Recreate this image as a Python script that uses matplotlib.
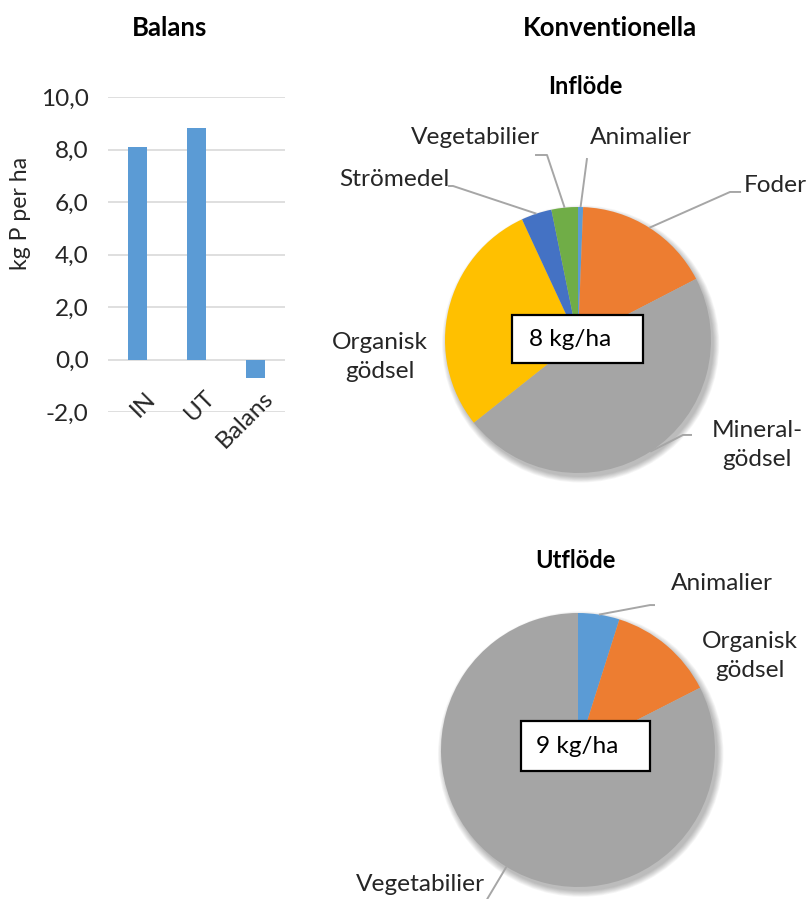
import matplotlib
matplotlib.use("Agg")
import matplotlib.pyplot as plt
from matplotlib.patches import Rectangle, Circle
from matplotlib.transforms import ScaledTranslation
import numpy as np

plt.rcParams['font.family'] = ['Lato', 'DejaVu Sans']

W, H = 806, 899
DPI = 100

# Phosphorus balance, kg P per ha
bar_labels = ["IN", "UT", "Balans"]
bar_values = [8.1, 8.8, -0.7]
y_ticks = [-2.0, 0.0, 2.0, 4.0, 6.0, 8.0, 10.0]

# Inflow by source, kg P per ha
in_labels = ["Animalier", "Foder", "Mineral-\ngödsel", "Organisk\ngödsel", "Strömedel", "Vegetabilier"]
in_values = [0.05, 1.36, 3.80, 2.33, 0.30, 0.26]
in_colors = ["#5B9BD5", "#ED7D31", "#A5A5A5", "#FFC000", "#4472C4", "#70AD47"]
in_total = "8 kg/ha"

# Outflow by product, kg P per ha
out_labels = ["Animalier", "Organisk\ngödsel", "Vegetabilier"]
out_values = [0.43, 1.11, 7.26]
out_colors = ["#5B9BD5", "#ED7D31", "#A5A5A5"]
out_total = "9 kg/ha"

TXT = "#262626"
FS = 17.6
FS_TITLE = 18.5

fig = plt.figure(figsize=(W / DPI, H / DPI), dpi=DPI)


def px_axes(x0, y0, x1, y1):
    return fig.add_axes([x0 / W, 1 - y1 / H, (x1 - x0) / W, (y1 - y0) / H])


def fig_text(x, y, s, **kw):
    return fig.text(x / W, 1 - y / H, s, **kw)


# ---- bar chart ----
ax = px_axes(108, 97, 285, 412)
x = np.arange(len(bar_values))
ax.bar(x, bar_values, width=0.32, color="#5B9BD5", zorder=3)
ax.set_xlim(-0.5, len(bar_values) - 0.5)
ax.set_ylim(min(y_ticks), max(y_ticks))
ax.set_yticks(y_ticks)
ax.set_yticklabels([f"{v:.1f}".replace(".", ",") for v in y_ticks],
                   fontsize=FS, color=TXT)
ax.set_xticks([])
ax.tick_params(axis="y", length=0, pad=14)
ax.yaxis.grid(True, color="#D9D9D9", linewidth=1.2, zorder=0)
for sp in ax.spines.values():
    sp.set_visible(False)
offset = ScaledTranslation(0.07, -0.28, fig.dpi_scale_trans)
for xi, lab in zip(x, bar_labels):
    ax.text(xi, 0, lab, rotation=45, rotation_mode="anchor", ha="right",
            va="top", fontsize=FS, color=TXT,
            transform=ax.transData + offset)
fig_text(21, 213, "kg P per ha", rotation=90, ha="center", va="center",
         fontsize=FS - 1, color=TXT)

fig_text(170, 28, "Balans", ha="center", va="center", fontsize=FS_TITLE,
         fontweight="bold", color="black")
fig_text(610, 28, "Konventionella", ha="center", va="center",
         fontsize=FS_TITLE, fontweight="bold", color="black")


# ---- pies ----
def draw_pie(cx, cy, r, values, colors, labels, label_pos, leaders, box,
             total, text_x, text_y):
    L = 1.75
    pax = px_axes(cx - L * r, cy - L * r, cx + L * r, cy + L * r)
    # soft drop shadow
    for k in range(8):
        pax.add_patch(Circle((0.02, -0.03), 1.0 + 0.006 * k, color="black",
                             alpha=0.035, lw=0, zorder=0))
    wedges, _ = pax.pie(values, colors=colors, startangle=90,
                        counterclock=False, radius=1.0, center=(0, 0),
                        wedgeprops=dict(linewidth=0, zorder=2))
    pax.set_xlim(-L, L)
    pax.set_ylim(-L, L)
    pax.axis("off")
    for w, lab, pos in zip(wedges, labels, label_pos):
        pax.text(pos[0], pos[1], lab, ha="center", va="center",
                 multialignment="center", fontsize=FS, color=TXT,
                 linespacing=1.5)
    for idx, pts in leaders.items():
        w = wedges[idx]
        mid = np.deg2rad((w.theta1 + w.theta2) / 2)
        xs = [np.cos(mid)] + [p[0] for p in pts]
        ys = [np.sin(mid)] + [p[1] for p in pts]
        pax.plot(xs, ys, color="#A6A6A6", lw=1.4, zorder=3,
                 solid_capstyle="butt", clip_on=False)
    (bx0, by0, bx1, by1) = box
    pax.add_patch(Rectangle((bx0, by0), bx1 - bx0, by1 - by0,
                            facecolor="white", edgecolor="black", lw=1.6,
                            zorder=4))
    pax.text(text_x, text_y, total, ha="left", va="center", fontsize=FS,
             color="black", zorder=5)
    return pax


draw_pie(578, 340, 133, in_values, in_colors, in_labels,
         label_pos=[(0.474, 1.519), (1.481, 1.165), (1.346, -0.789),
                    (-1.489, -0.128), (-1.383, 1.21), (-0.774, 1.519)],
         leaders={0: [(0.068, 1.368)],
                  1: [(1.143, 1.113), (1.226, 1.113)],
                  2: [(0.789, -0.714), (0.857, -0.714)],
                  4: [(-0.94, 1.158), (-0.977, 1.158)],
                  5: [(-0.233, 1.391), (-0.323, 1.391)]},
         box=(-0.496, -0.173, 0.489, 0.188), total=in_total,
         text_x=-0.368, text_y=0.0)
fig_text(585, 86, "Inflöde", ha="center", va="center", fontsize=FS - 0.6,
         fontweight="bold", color="black")

draw_pie(578, 750, 137, out_values, out_colors, out_labels,
         label_pos=[(1.051, 1.212), (1.255, 0.686), (-1.153, -0.985)],
         leaders={0: [(0.526, 1.058), (0.562, 1.058)],
                  2: [(-0.664, -1.09)]},
         box=(-0.416, -0.153, 0.526, 0.212), total=out_total,
         text_x=-0.307, text_y=0.029)
fig_text(575, 560, "Utflöde", ha="center", va="center", fontsize=FS - 0.6,
         fontweight="bold", color="black")

fig.savefig("out.png", dpi=DPI, facecolor="white")
